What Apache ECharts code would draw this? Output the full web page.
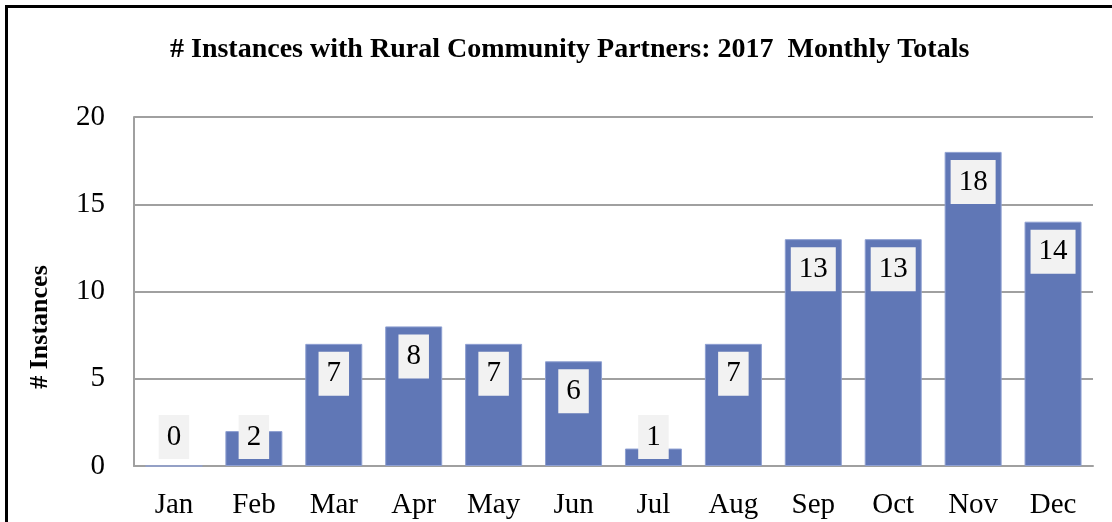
<!DOCTYPE html>
<html><head><meta charset="utf-8">
<script src="https://cdn.jsdelivr.net/npm/echarts@6/dist/echarts.min.js"></script>
<style>html,body{margin:0;padding:0;background:#fff}#c{width:1112px;height:522px}</style>
</head><body><div id="c"></div>
<script>
const months = ['Jan','Feb','Mar','Apr','May','Jun','Jul','Aug','Sep','Oct','Nov','Dec'];
const values = [0,2,7,8,7,6,1,7,13,13,18,14];
const yTicks = {min:0, max:20, interval:5};
const titleText = '# Instances with Rural Community Partners: 2017  Monthly Totals';
const yName = '# Instances';

const FONT = '"Liberation Serif", "DejaVu Serif", serif';
const chart = echarts.init(document.getElementById('c'), null, {renderer:'canvas'});
chart.setOption({
  animation:false,
  title:{text:titleText, left:165, top:31, textStyle:{fontFamily:FONT, fontWeight:'bold', fontSize:28, color:'#000'}},
  graphic:[
    {type:'rect', shape:{x:6.5, y:6.5, width:1200, height:600}, style:{fill:'none', stroke:'#000', lineWidth:3}, silent:true, z:100},
    {type:'text', x:40, y:327, rotation:Math.PI/2, style:{text:yName, font:'bold 26px ' + FONT, fill:'#000', align:'center', verticalAlign:'middle'}}
  ],
  grid:{left:134, right:19, top:117, bottom:56},
  xAxis:{type:'category', data:months,
    axisLine:{lineStyle:{color:'#a0a0a0', width:2}}, axisTick:{show:false},
    axisLabel:{fontFamily:FONT, fontSize:29, color:'#000', margin:25}},
  yAxis:{type:'value', min:yTicks.min, max:yTicks.max, interval:yTicks.interval,
    axisLine:{show:true, lineStyle:{color:'#a0a0a0', width:2}}, axisTick:{show:false},
    axisLabel:{fontFamily:FONT, fontSize:29, color:'#000', margin:29},
    splitLine:{lineStyle:{color:'#a0a0a0', width:2}}},
  series:[
    {type:'bar', data:values, barWidth:57,
      itemStyle:{color:'#6077b6', borderColor:'#8fa0d2', borderWidth:1}},
    {type:'custom', data:values.map((v,i)=>[i,v]), z:10,
      renderItem:function(params, api){
        const i = api.value(0), v = api.value(1);
        const p = api.coord([i, v]);
        const base = api.coord([i, 0])[1];
        const y = Math.min(p[1] + 8, base - 51);
        return {type:'text', x:p[0], y:y, style:{text:String(v), fill:'#000',
          font:'29px ' + FONT, lineHeight:28, align:'center', verticalAlign:'top',
          backgroundColor:'#f2f2f2', padding:[8,8,8,8]}};
      }}
  ]
});
</script></body></html>
